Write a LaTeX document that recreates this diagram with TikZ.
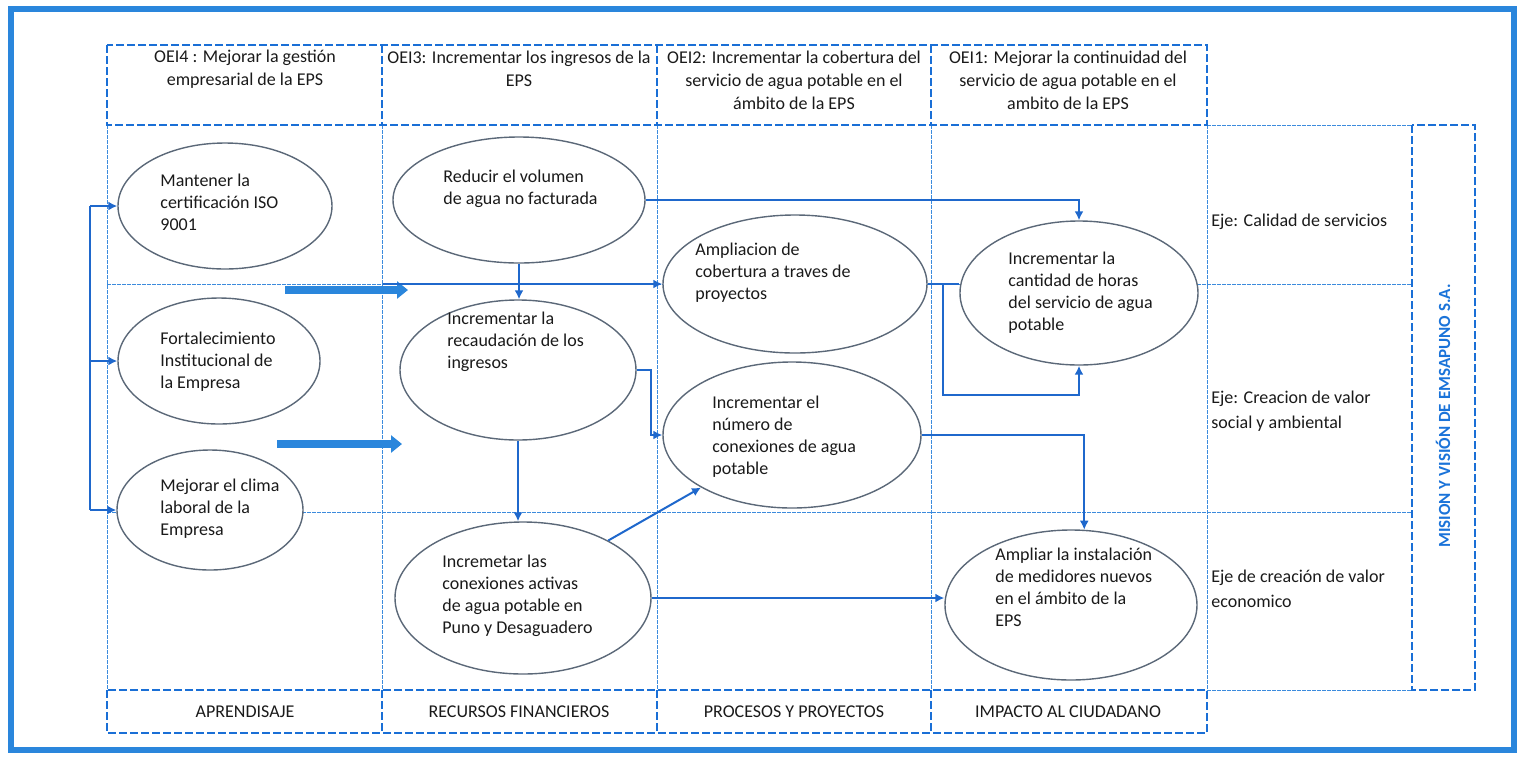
\documentclass[tikz,border=0pt]{standalone}
\usepackage{fontspec}
\setmainfont{Carlito}
\usetikzlibrary{arrows.meta,shapes.geometric,calc}
\definecolor{frameblue}{HTML}{2A86DC}
\definecolor{dashblue}{HTML}{1A6FD6}
\definecolor{lineblue}{HTML}{1F68CC}
\definecolor{ellgray}{HTML}{5B6878}
\definecolor{txtcol}{HTML}{1A1A1A}
\definecolor{dotblue}{HTML}{3C8BDD}
\definecolor{misblue}{HTML}{1A73D9}
\begin{document}
\begin{tikzpicture}[x=0.5pt,y=-0.5pt,
  every node/.style={font=\fontsize{9}{11}\selectfont, text=txtcol},
  ell/.style={ellipse, draw=ellgray, line width=0.7pt, fill=white, inner sep=0pt},
  etext/.style={align=left, inner sep=0pt, anchor=west},
  htext/.style={align=center, inner sep=0pt, font=\fontsize{9}{11.5}\selectfont},
  ejetext/.style={align=left, inner sep=0pt, anchor=west, font=\fontsize{9}{12.5}\selectfont},
  dashbox/.style={draw=dashblue, line width=1pt, dash pattern=on 4pt off 1.5pt},
  dotline/.style={draw=dotblue, line width=0.5pt, dash pattern=on 2pt off 0.5pt},
  conn/.style={draw=lineblue, line width=1pt, -{Latex[length=4.5pt,width=4.5pt]}},
  pline/.style={draw=lineblue, line width=1pt},
  bigarrow/.style={draw=frameblue, line width=4pt, -{Triangle[length=5.5pt,width=8.5pt]}},
]
\useasboundingbox (0,0) rectangle (1523,757);
% outer frame
\draw[frameblue, line width=3pt] (11,9) rectangle (1514,750);

% body grid (thin dotted)
\foreach \xx in {107,382,657,931,1207}{
  \draw[dotline] (\xx,125) -- (\xx,690);
}
\draw[dotline] (107,284) -- (1412,284);
\draw[dotline] (107,512) -- (1412,512);
\draw[dotline] (1207,125) -- (1412,125);
\draw[dotline] (1207,690) -- (1412,690);

% header boxes
\draw[dashbox] (107,45) rectangle (1207,125);
\foreach \xx in {382,657,931}{
  \draw[dashbox] (\xx,45) -- (\xx,125);
}
% bottom boxes
\draw[dashbox] (107,690) rectangle (1207,733);
\foreach \xx in {382,657,931}{
  \draw[dashbox] (\xx,690) -- (\xx,733);
}
% mision box
\draw[dashbox] (1412,125) rectangle (1475,690);

% header texts
\node[htext] (h4) at (245,69) {OEI4 : Mejorar la gestión\\empresarial de la EPS};
\node[htext] (h3) at (519,69) {OEI3: Incrementar los ingresos de la\\EPS};
\node[htext] (h2) at (794,80) {OEI2: Incrementar la cobertura del\\servicio de agua potable en el\\ámbito de la EPS};
\node[htext] (h1) at (1068,80) {OEI1: Mejorar la continuidad del\\servicio de agua potable en el\\ambito de la EPS};

% bottom texts
\node (b4) at (245,712) {APRENDISAJE};
\node (b3) at (519,712) {RECURSOS FINANCIEROS};
\node (b2) at (794,712) {PROCESOS Y PROYECTOS};
\node (b1) at (1068,712) {IMPACTO AL CIUDADANO};

% eje texts
\node[ejetext] (eje1) at (1211,222) {Eje: Calidad de servicios};
\node[ejetext] (eje2) at (1211,411) {Eje: Creacion de valor\\social y ambiental};
\node[ejetext] (eje3) at (1211,589) {Eje de creación de valor\\economico};

% mision text
\node[rotate=90, font=\bfseries\fontsize{8.5}{10}\selectfont, text=misblue] (mis) at (1443,416) {MISION Y VISIÓN DE EMSAPUNO S.A.};

% big arrows
\coordinate (ba1s) at (285,290);
\coordinate (ba1e) at (408,290);
\coordinate (ba2s) at (277,444);
\coordinate (ba2e) at (402,444);
\draw[bigarrow] (ba1s) -- (ba1e);
\draw[bigarrow] (ba2s) -- (ba2e);

% ellipses
\node[ell, minimum width=107pt, minimum height=63pt] (e1) at (225,206) {};
\node[ell, minimum width=101pt, minimum height=63pt] (e2) at (219,361) {};
\node[ell, minimum width=93pt, minimum height=60pt] (e3) at (210,510) {};
\node[ell, minimum width=126pt, minimum height=63pt] (e4) at (519,200) {};
\node[ell, minimum width=118pt, minimum height=70pt] (e5) at (518,370) {};
\node[ell, minimum width=128pt, minimum height=76pt] (e6) at (523,598) {};
\node[ell, minimum width=132pt, minimum height=69pt] (e7) at (795,284) {};
\node[ell, minimum width=129pt, minimum height=73pt] (e8) at (792,435) {};
\node[ell, minimum width=119pt, minimum height=72pt] (e9) at (1079,293) {};
\node[ell, minimum width=126pt, minimum height=75pt] (e10) at (1071,605) {};

% ellipse texts
\node[etext] (t1) at (160,202) {Mantener la\\certificación ISO\\9001};
\node[etext] (t2) at (160,362) {Fortalecimiento\\Institucional de\\la Empresa};
\node[etext] (t3) at (160,509) {Mejorar el clima\\laboral de la\\Empresa};
\node[etext] (t4) at (443,189) {Reducir el volumen\\de agua no facturada};
\node[etext] (t5) at (447,342) {Incrementar la\\recaudación de los\\ingresos};
\node[etext] (t6) at (442,596) {Incremetar las\\conexiones activas\\de agua potable en\\Puno y Desaguadero};
\node[etext] (t7) at (695,273) {Ampliacion de\\cobertura a traves de\\proyectos};
\node[etext] (t8) at (712,437) {Incrementar el\\número de\\conexiones de agua\\potable};
\node[etext] (t9) at (1008,293) {Incrementar la\\cantidad de horas\\del servicio de agua\\potable};
\node[etext] (t10) at (995,587) {Ampliar la instalación\\de medidores nuevos\\en el ámbito de la\\EPS};

% left bracket
\coordinate (bk1) at (90,206);
\coordinate (bk2) at (90,361);
\coordinate (bk3) at (90,510);
\draw[pline] (bk1) -- (bk3);
\draw[conn] (bk1) -- (e1.west);
\draw[conn] (bk2) -- (e2.west);
\draw[conn] (bk3) -- (e3.west);

% connectors
\draw[conn] (e4.east) -| (e9.north);
\draw[conn] (e4.south) -- (e4.south |- e5.north);
\coordinate (h0) at (383,284);
\draw[conn] (h0) -- (e7.west);
\draw[conn] (e5.east) -- ++(14,0) |- (e8.west);
\draw[conn] (e5.south) -- (e5.south |- e6.north);
\draw[conn] (e6.34) -- (e8.210);
\draw[conn] (e6.east) -- (e6.east -| e10.west);
\draw[pline] (e7.east) -- (e7.east -| e9.west);
\coordinate (j1) at (943,284);
\coordinate (j2) at (1079,395);
\draw[conn] (j1) |- (j2) -- (e9.south);
\draw[conn] (e8.east) -| (e10.80);
\end{tikzpicture}
\end{document}
